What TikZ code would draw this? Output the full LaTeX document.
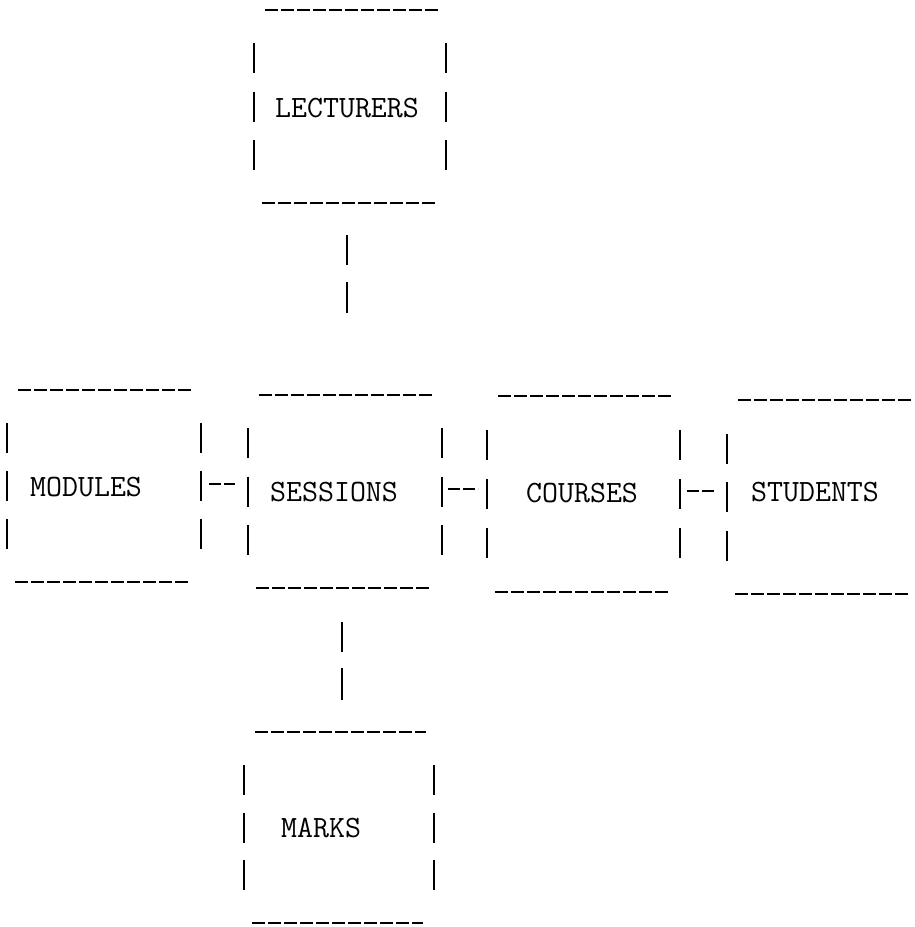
\documentclass[tikz,border=0pt]{standalone}
\usetikzlibrary{calc}

% Typewriter-style entity diagram: boxes made of typed hyphens and strokes
\tikzset{
  entity/.style={rectangle, inner sep=0pt, outer sep=0pt},
  lbl/.style={inner sep=0pt, anchor=west, font=\fontsize{31pt}{36pt}\selectfont\ttfamily},
  hrule/.style={line width=1.3pt, dash pattern=on 13pt off 3pt},
  vbar/.style={line width=1.5pt},
  hlink/.style={line width=1.3pt, dash pattern=on 12pt off 3pt},
}

% rows of hyphens above and below a box
\newcommand\typedrules[1]{%
  \draw[hrule] ([xshift=11pt]#1.north west) -- ([xshift=-8pt]#1.north east);
  \draw[hrule] ([xshift=8pt]#1.south west) -- ([xshift=-11pt]#1.south east);
}
% three typed strokes down one side of a box (#2 = west or east)
\newcommand\sidebars[2]{%
  \foreach \f in {0.25,0.5,0.75}
    \draw[vbar] ($(#1.north #2)!\f!(#1.south #2)$) ++(0,-15) -- ++(0,30);
}

\begin{document}
\begin{tikzpicture}[x=1pt, y=-1pt]
  \useasboundingbox (0,0) rectangle (915,927);

  % entity boxes
  \node[entity, minimum width=192pt, minimum height=193pt] (lec) at (350,106.5) {};
  \node[entity, minimum width=194pt, minimum height=192pt] (mod) at (104,486) {};
  \node[entity, minimum width=194pt, minimum height=193pt] (ses) at (345,491.5) {};
  \node[entity, minimum width=193pt, minimum height=196pt] (cou) at (583.5,494) {};
  \node[entity, minimum width=194pt, minimum height=194pt] (stu) at (824,497) {};
  \node[entity, minimum width=190pt, minimum height=191pt] (mar) at (339,827.5) {};

  % box outlines
  \foreach \n in {lec,mod,ses,cou,stu,mar} {
    \typedrules{\n}
    \sidebars{\n}{west}
  }
  \foreach \n in {lec,mod,ses,cou,mar} {
    \sidebars{\n}{east}
  }

  % labels
  \node[lbl] (lect) at (275,108) {LECTURERS};
  \node[lbl] (modt) at (30,487) {MODULES};
  \node[lbl] (sest) at (270,492) {SESSIONS};
  \node[lbl] (cout) at (526,493) {COURSES};
  \node[lbl] (stut) at (751,492) {STUDENTS};
  \node[lbl] (mart) at (281,828) {MARKS};

  % horizontal links  |--|
  \draw[hlink, shorten <=8pt, shorten >=13pt]
    ([yshift=2pt]mod.east) -- ([yshift=2pt]mod.east -| ses.west);
  \draw[hlink, shorten <=6pt, shorten >=9pt]
    ([yshift=2.5pt]ses.east) -- ([yshift=2.5pt]ses.east -| cou.west);
  \draw[hlink, shorten <=7pt, shorten >=12pt]
    ([yshift=3pt]cou.east) -- ([yshift=3pt]cou.east -| stu.west);

  % vertical links, two typed strokes each
  \draw[vbar, dash pattern=on 30pt off 17pt on 31pt off 300pt, shorten <=32pt]
    ([xshift=-3pt]lec.south) -- ([xshift=-3pt]lec.south |- ses.north);
  \draw[vbar, dash pattern=on 30pt off 16pt on 32pt off 300pt, shorten <=34pt]
    ([xshift=-3pt]ses.south) -- ([xshift=-3pt]ses.south |- mar.north);
\end{tikzpicture}
\end{document}
